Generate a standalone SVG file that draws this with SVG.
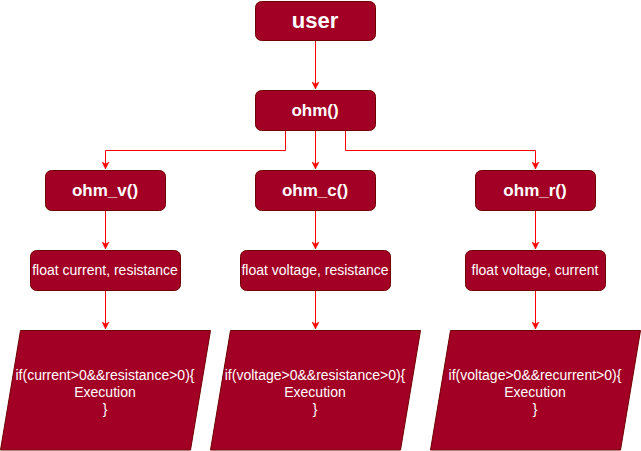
<svg xmlns="http://www.w3.org/2000/svg" width="641" height="451" viewBox="0 0 641 451">
<style>
.n{fill:#a20025;stroke:#6f0000;stroke-width:1}
.t{fill:#ffffff;font-family:"Liberation Sans",Arial,sans-serif;text-anchor:middle;dominant-baseline:central}
.b{font-weight:bold;font-size:17px}
.s{font-size:14px}
.c{fill:none;stroke:#ff0000;stroke-width:1}
</style>
<defs>
<marker id="a" markerWidth="8" markerHeight="8" refX="7" refY="4" orient="auto" markerUnits="userSpaceOnUse">
<path d="M0,0.5 L7,4 L0,7.5 L2,4 Z" fill="#ff0000" stroke="#ff0000" stroke-width="0.5"/>
</marker>
</defs>
<g id="connectors">
<path class="c" d="M315.5,40 V89" marker-end="url(#a)"/>
<path class="c" d="M285.5,130 V150.5 H105.5 V169" marker-end="url(#a)"/>
<path class="c" d="M315.5,130 V169" marker-end="url(#a)"/>
<path class="c" d="M345.5,130 V150.5 H535.5 V169" marker-end="url(#a)"/>
<path class="c" d="M105.5,210 V249" marker-end="url(#a)"/>
<path class="c" d="M315.5,210 V249" marker-end="url(#a)"/>
<path class="c" d="M535.5,210 V249" marker-end="url(#a)"/>
<path class="c" d="M105.5,290 V329" marker-end="url(#a)"/>
<path class="c" d="M315.5,290 V329" marker-end="url(#a)"/>
<path class="c" d="M535.5,290 V329" marker-end="url(#a)"/>
</g>
<g id="user"><rect class="n" x="255.5" y="1.5" width="120" height="39" rx="6"/><text class="t" x="315" y="20.5" style="font-weight:bold;font-size:22px">user</text></g>
<g id="ohm"><rect class="n" x="255.5" y="90.5" width="120" height="40" rx="6"/><text class="t b" x="315" y="110">ohm()</text></g>
<g id="ohm_v"><rect class="n" x="45.5" y="170.5" width="120" height="40" rx="6"/><text class="t b" x="105" y="190">ohm_v()</text></g>
<g id="ohm_c"><rect class="n" x="255.5" y="170.5" width="120" height="40" rx="6"/><text class="t b" x="315" y="190">ohm_c()</text></g>
<g id="ohm_r"><rect class="n" x="475.5" y="170.5" width="120" height="40" rx="6"/><text class="t b" x="535" y="190">ohm_r()</text></g>
<g id="float_v"><rect class="n" x="30.5" y="250.5" width="150" height="40" rx="6"/><text class="t s" x="105" y="270">float current, resistance</text></g>
<g id="float_c"><rect class="n" x="240.5" y="250.5" width="150" height="40" rx="6"/><text class="t s" x="315" y="270">float voltage, resistance</text></g>
<g id="float_r"><rect class="n" x="465.5" y="250.5" width="140" height="40" rx="6"/><text class="t s" x="535" y="270">float voltage, current</text></g>
<g id="exec_v"><path class="n" d="M20.5,330.5 H210.5 L190.5,450 H0.5 Z"/><text class="t s" x="105" y="375">if(current&gt;0&amp;&amp;resistance&gt;0){</text><text class="t s" x="105" y="392">Execution</text><text class="t s" x="105" y="409">}</text></g>
<g id="exec_c"><path class="n" d="M230.5,330.5 H420.5 L400.5,450 H210.5 Z"/><text class="t s" x="315" y="375">if(voltage&gt;0&amp;&amp;resistance&gt;0){</text><text class="t s" x="315" y="392">Execution</text><text class="t s" x="315" y="409">}</text></g>
<g id="exec_r"><path class="n" d="M450.5,330.5 H640.5 L620.5,450 H430.5 Z"/><text class="t s" x="535" y="375">if(voltage&gt;0&amp;&amp;recurrent&gt;0){</text><text class="t s" x="535" y="392">Execution</text><text class="t s" x="535" y="409">}</text></g>
</svg>
